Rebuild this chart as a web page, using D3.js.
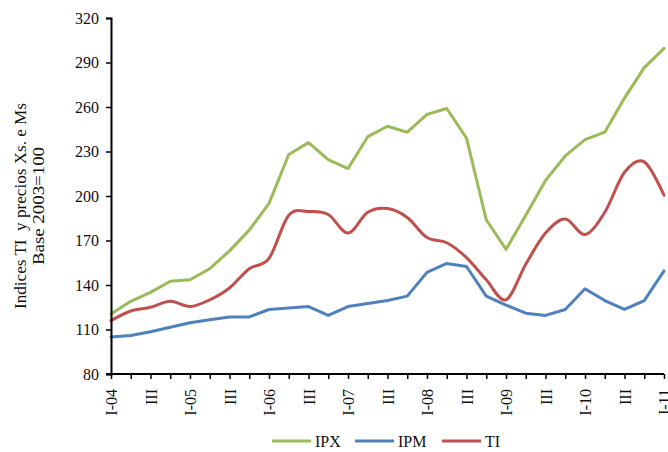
<!DOCTYPE html>
<html>
<head>
<meta charset="utf-8">
<script src="https://cdnjs.cloudflare.com/ajax/libs/d3/7.8.5/d3.min.js"></script>
<style>
  html, body { margin: 0; padding: 0; background: #fff; }
  svg text { font-family: "Liberation Serif", "Times New Roman", serif; fill: #111; }
</style>
</head>
<body>
<svg id="chart" width="668" height="452"></svg>
<script>
// Quarterly periods, I-2004 .. I-2011
const quarters = [
  "I-04","II-04","III-04","IV-04",
  "I-05","II-05","III-05","IV-05",
  "I-06","II-06","III-06","IV-06",
  "I-07","II-07","III-07","IV-07",
  "I-08","II-08","III-08","IV-08",
  "I-09","II-09","III-09","IV-09",
  "I-10","II-10","III-10","IV-10",
  "I-11"
];

// Export price index
const ipx = [120.5, 129, 135, 142.5, 143.5, 151, 163, 177, 195, 228, 236, 224.5, 218.5, 240, 247,
             243, 255, 259, 239, 184, 164, 187, 210.5, 227, 238, 243, 266, 286.5, 299.5];
// Import price index
const ipm = [105, 106, 108.5, 111.5, 114.5, 116.5, 118.5, 118.5, 123.5, 124.5, 125.5, 119.5, 125.5, 127.5, 129.5,
             132.5, 148.5, 154.5, 152.5, 132.5, 126.5, 121, 119.5, 123.5, 137.5, 129.5, 123.5, 129.5, 149.5];
// Terms of trade
const ti  = [116, 122.5, 125, 129, 125.5, 130, 138, 151, 158, 187, 189.5, 187.5, 175, 189, 191.5,
             185.5, 172, 168.5, 158.5, 143.5, 130, 154, 175, 184.5, 174, 189, 216, 223, 200.5];

const yTicks = [80, 110, 140, 170, 200, 230, 260, 290, 320];

const series = [
  { name: "IPX", values: ipx, color: "#9BBB59", smooth: false },
  { name: "IPM", values: ipm, color: "#4F81BD", smooth: false },
  { name: "TI",  values: ti,  color: "#C0504D", smooth: true }
];

const svg = d3.select("#chart");
const plotLeft = 111, plotRight = 664, plotTop = 18, plotBottom = 374;

const x = d3.scalePoint().domain(quarters).range([plotLeft, plotRight]);
const y = d3.scaleLinear().domain([80, 320]).range([plotBottom, plotTop]);

// Lines
const lineStraight = d3.line()
  .x((d, i) => x(quarters[i]))
  .y(d => y(d))
  .curve(d3.curveLinear);
const lineSmooth = d3.line()
  .x((d, i) => x(quarters[i]))
  .y(d => y(d))
  .curve(d3.curveCardinal.tension(0));

svg.append("g").selectAll("path")
  .data(series)
  .join("path")
  .attr("fill", "none")
  .attr("stroke", d => d.color)
  .attr("stroke-width", 3)
  .attr("stroke-linejoin", "round")
  .attr("stroke-linecap", "round")
  .attr("d", d => (d.smooth ? lineSmooth : lineStraight)(d.values));

// Y axis
const yAxis = svg.append("g")
  .attr("transform", `translate(${plotLeft},0)`)
  .call(d3.axisLeft(y).tickValues(yTicks).tickSize(5).tickPadding(7).tickFormat(d3.format("d")));
yAxis.select(".domain").attr("stroke", "#000").attr("stroke-width", 2);
yAxis.selectAll(".tick line").attr("stroke", "#000").attr("stroke-width", 1.5);
yAxis.selectAll(".tick text")
  .style("font-family", "'Liberation Serif', serif")
  .style("font-size", "16px")
  .attr("fill", "#111");

// X axis: a tick on every quarter, labels on I and III
const xLabel = q => q.startsWith("I-") ? q : (q.startsWith("III-") ? "III" : "");
const xAxis = svg.append("g")
  .attr("transform", `translate(0,${plotBottom})`)
  .call(d3.axisBottom(x).tickSize(5).tickPadding(0).tickFormat(xLabel));
xAxis.select(".domain").attr("stroke", "#000").attr("stroke-width", 2)
  .attr("d", `M${plotLeft - 5},0H${plotRight}`);
xAxis.selectAll(".tick line").attr("stroke", "#000").attr("stroke-width", 1.5);
xAxis.selectAll(".tick text")
  .style("font-family", "'Liberation Serif', serif")
  .style("font-size", "16px")
  .attr("fill", "#111")
  .attr("text-anchor", "end")
  .attr("dy", "0.35em")
  .attr("transform", "translate(0,15) rotate(-90)")
  .attr("x", 0)
  .attr("y", 0);

// Y axis title (two rotated lines)
const title = svg.append("text")
  .attr("transform", "translate(26,206) rotate(-90)")
  .attr("text-anchor", "middle")
  .style("font-size", "17px")
  .style("white-space", "pre");
title.append("tspan").attr("x", 0).attr("dy", 0)
  .attr("textLength", 206).attr("lengthAdjust", "spacingAndGlyphs")
  .text("Indices TI  y precios Xs. e Ms");
title.append("tspan").attr("x", 0).attr("dy", 18)
  .attr("textLength", 118).attr("lengthAdjust", "spacingAndGlyphs")
  .text("Base 2003=100");

// Legend
const legend = svg.append("g").attr("transform", "translate(272,441)");
const legendX = [0, 83, 170];
series.forEach((s, i) => {
  const g = legend.append("g").attr("transform", `translate(${legendX[i]},0)`);
  g.append("line").attr("x1", 0).attr("x2", 39).attr("y1", 0).attr("y2", 0)
    .attr("stroke", s.color).attr("stroke-width", 3);
  g.append("text").attr("x", 43).attr("y", 0).attr("dy", "0.35em")
    .style("font-size", "16px").text(s.name);
});
</script>
</body>
</html>
